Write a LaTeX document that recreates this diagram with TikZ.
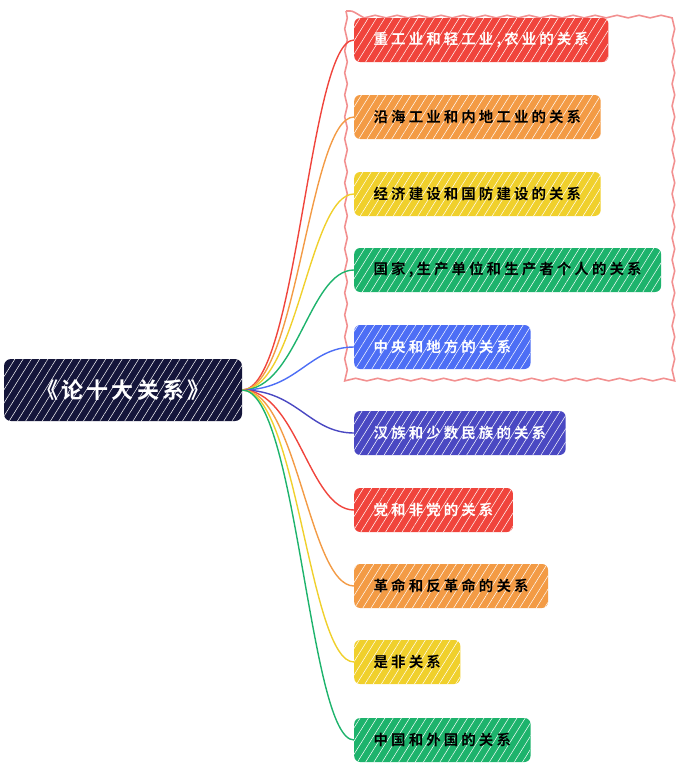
\documentclass[tikz,border=0pt]{standalone}
\usepackage{fontspec}
\newfontfamily\cjkb{Noto Sans CJK SC}[LetterSpace=21,UprightFont={* Bold}]
\newfontfamily\cjkroot{Noto Sans CJK SC}[LetterSpace=14,UprightFont={* Bold}]
\usetikzlibrary{patterns.meta,decorations.pathmorphing}
\definecolor{cred}{HTML}{F0443C}
\definecolor{corange}{HTML}{F39B45}
\definecolor{cyellow}{HTML}{F0D02C}
\definecolor{cgreen}{HTML}{1DB36C}
\definecolor{cblue}{HTML}{4D6EF5}
\definecolor{cindigo}{HTML}{4A48C2}
\definecolor{croot}{HTML}{14153A}
\definecolor{cpink}{HTML}{F29090}
\tikzset{
  hatch/.style={postaction={pattern={Lines[angle=58,distance=7pt,line width=0.5pt]},pattern color=white,fill opacity=0.35}},
  topic/.style={anchor=west,rectangle,rounded corners=6pt,minimum height=44pt,inner xsep=19.5pt,inner ysep=0pt,font=\cjkb\fontsize{14.5}{17}\selectfont,hatch},
  conn/.style={line width=1.4pt},
}
\begin{document}
\begin{tikzpicture}[x=1pt,y=-1pt]
\useasboundingbox (0,0) rectangle (680,766);
\draw[cpink,line width=1.6pt,decorate,decoration={snake,amplitude=1.3pt,segment length=22pt}] (346,11) rectangle (672,376);
\node[rectangle,rounded corners=7pt,fill=croot,minimum width=238pt,minimum height=62pt,text=white,font=\cjkroot\fontsize{22}{25}\selectfont,hatch] (root) at (123,390) {《论十大关系》};
\node[topic,fill=cred,text=white] (n1) at (354,40) {重工业和轻工业,农业的关系};
\node[topic,fill=corange,text=black] (n2) at (354,117) {沿海工业和内地工业的关系};
\node[topic,fill=cyellow,text=black] (n3) at (354,194) {经济建设和国防建设的关系};
\node[topic,fill=cgreen,text=black] (n4) at (354,270) {国家,生产单位和生产者个人的关系};
\node[topic,fill=cblue,text=white] (n5) at (354,347) {中央和地方的关系};
\node[topic,fill=cindigo,text=white] (n6) at (354,433) {汉族和少数民族的关系};
\node[topic,fill=cred,text=white] (n7) at (354,510) {党和非党的关系};
\node[topic,fill=corange,text=black] (n8) at (354,586) {革命和反革命的关系};
\node[topic,fill=cyellow,text=black] (n9) at (354,662) {是非关系};
\node[topic,fill=cgreen,text=black] (n10) at (354,740) {中国和外国的关系};
\foreach \n/\c in {n1/cred,n2/corange,n3/cyellow,n4/cgreen,n5/cblue,n6/cindigo,n7/cred,n8/corange,n9/cyellow,n10/cgreen}{
  \draw[conn,\c] (root.east) .. controls +(55,0) and +(-45,0) .. (\n.west);
}
\end{tikzpicture}
\end{document}
